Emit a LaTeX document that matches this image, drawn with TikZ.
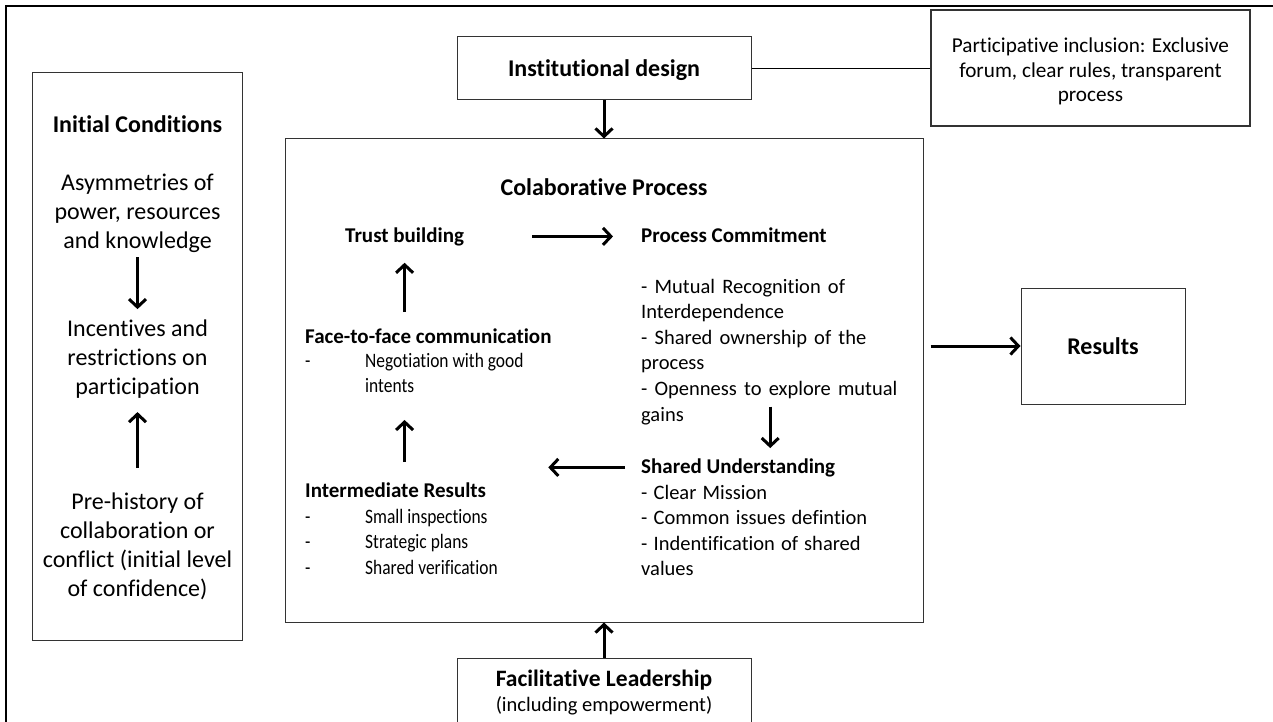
\documentclass[tikz,border=0pt]{standalone}
\usepackage{fontspec}
\setmainfont{Carlito}[Ligatures={NoCommon}]
\newfontfamily\condfont{Carlito}[Ligatures={NoCommon}, FakeStretch=0.85]
\usetikzlibrary{arrows.meta}
\begin{document}
\begin{tikzpicture}[x=1pt,y=-1pt,
  box/.style={draw=black!80, line width=1pt, inner sep=0pt},
  txt/.style={inner sep=0pt, anchor=base west},
  ctxt/.style={inner sep=0pt, anchor=base},
  arr/.style={line width=3pt, -{Straight Barb[length=8pt,width=17pt]}},
  big/.style={font=\fontsize{24}{29}\selectfont},
  head/.style={font=\fontsize{21}{25.6}\selectfont\bfseries},
  ]
\useasboundingbox (0,0) rectangle (1273,722);
\fill[white] (0,0) rectangle (1273,722);
\draw[line width=2.4pt] (6.2,724) -- (6.2,6.2) -- (1275,6.2);

% boxes
\node[box, minimum width=210pt, minimum height=567pt] (init) at (137,356.5) {};
\node[box, minimum width=638pt, minimum height=483pt] (collab) at (604,380.5) {};
\node[box, minimum width=294pt, minimum height=63pt] (inst) at (604,68.5) {};
\node[box, line width=1.2pt, minimum width=319pt, minimum height=116pt] (part) at (1090.5,68) {};
\node[box, minimum width=164pt, minimum height=116pt] (res) at (1103,346) {};
\node[box, minimum width=294pt, minimum height=67pt] (facil) at (604,691.5) {};

% outer texts
\node[ctxt, big] (instT) at (604,77) {\bfseries Institutional design};
\node[ctxt] (partT) at (1090.5,53) {\parbox[t]{315pt}{\centering\fontsize{21.2}{24.5}\selectfont Participative inclusion: Exclusive\\ forum, clear rules, transparent\\ process}};
\node[ctxt, big] (resT) at (1103,354) {\bfseries Results};
\node[ctxt] (facT) at (604,686) {\fontsize{23.5}{26}\selectfont\bfseries Facilitative Leadership};
\node[ctxt] (facS) at (604,711) {\fontsize{20.5}{24}\selectfont (including empowerment)};

% initial conditions
\node[ctxt, big] (initT) at (137.5,133) {\bfseries Initial Conditions};
\node[ctxt] (asym) at (137.5,190) {\parbox[t]{205pt}{\centering\fontsize{24}{29}\selectfont Asymmetries of\\ power, resources\\ and knowledge}};
\node[ctxt] (incent) at (137.5,336) {\parbox[t]{205pt}{\centering\fontsize{24}{29}\selectfont Incentives and\\ restrictions on\\ participation}};
\node[ctxt] (prehist) at (137.5,509) {\parbox[t]{205pt}{\centering\fontsize{24}{29}\selectfont Pre-history of\\ collaboration or\\ conflict (initial level\\ of confidence)}};

% collaborative process
\node[ctxt, big] (collabT) at (604,195) {\bfseries Colaborative Process};
\node[txt, head] (trust) at (345,242) {Trust building};
\node[txt, head] (commit) at (641,242) {Process Commitment};
\node[txt] (commitL) at (641,293) {\parbox[t]{258pt}{\fontsize{20.5}{25.6}\selectfont\spaceskip=0.35em plus 0.1em - Mutual Recognition of\\ Interdependence\\ - Shared ownership of the\\ process\\ - Openness to explore mutual\\ gains}};
\node[txt, head] (shared) at (641,473) {Shared Understanding};
\node[txt] (sharedL) at (641,499) {\parbox[t]{258pt}{\fontsize{20.5}{25.6}\selectfont\spaceskip=0.3em plus 0.1em - Clear Mission\\ - Common issues defintion\\ - Indentification of shared\\ values}};
\node[txt, head] (face) at (305,343) {Face-to-face communication};
\node[txt] (faceL) at (305,367) {\parbox[t]{240pt}{\condfont\fontsize{20.5}{25.6}\selectfont\makebox[60pt][l]{-}Negotiation with good\\ \hspace*{60pt}intents}};
\node[txt, head] (inter) at (305,497) {Intermediate Results};
\node[txt] (interL) at (305,523) {\parbox[t]{240pt}{\condfont\fontsize{20.5}{25.6}\selectfont\makebox[60pt][l]{-}Small inspections\\ \makebox[60pt][l]{-}Strategic plans\\ \makebox[60pt][l]{-}Shared verification}};

% connectors
\draw[arr] (inst) -- (collab);
\draw[arr] (facil) -- (collab);
\draw[arr, shorten <=7pt] (collab.east |- res.west) -- (res.west);
\draw[line width=1.3pt] (inst.east) -- (inst.east -| part.west);

\draw[arr, shorten <=5pt, shorten >=10pt] (asym.south) -- (incent.north);
\draw[arr, shorten <=24pt, shorten >=14pt] (prehist.north) -- (incent.south);

\draw[arr, shorten <=68pt, shorten >=28pt] (trust.east) -- (trust.east -| commit.west);
\draw[arr, shorten <=16pt, shorten >=62pt] (shared.west) -- (shared.west -| inter.east);
\draw[arr, shorten <=16pt, shorten >=17pt] (face.north -| trust.south) -- (trust.south);
\draw[arr, shorten <=20pt, shorten >=27pt] (inter.north -| trust.south) -- (faceL.south -| trust.south);
\draw[arr, shorten <=-18pt, shorten >=10pt] (commitL.south) -- (commitL.south |- shared.north);
\end{tikzpicture}
\end{document}
